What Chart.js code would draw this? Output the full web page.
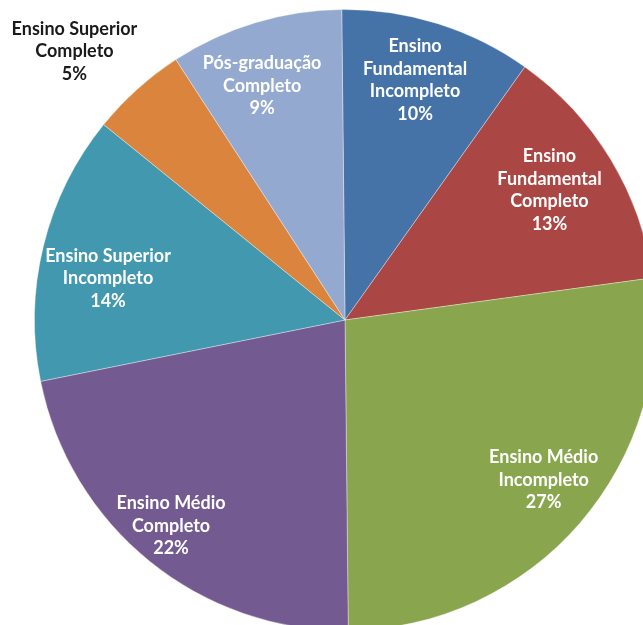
<!DOCTYPE html>
<html>
<head>
<meta charset="utf-8">
<script src="https://cdn.jsdelivr.net/npm/chart.js@4"></script>
<style>
  html, body { margin: 0; padding: 0; background: #fff; overflow: hidden; }
  #wrap { position: relative; width: 643px; height: 625px; overflow: hidden; }
  #wrap canvas { position: absolute; left: 0; top: 0; }
</style>
</head>
<body>
<div id="wrap"><canvas id="pie" width="700" height="640" style="width:700px;height:640px"></canvas></div>
<script>
// Escolaridade — pie, clockwise from 12 o'clock
const categories = [
  ['Ensino', 'Fundamental', 'Incompleto'],
  ['Ensino', 'Fundamental', 'Completo'],
  ['Ensino Médio', 'Incompleto'],
  ['Ensino Médio', 'Completo'],
  ['Ensino Superior', 'Incompleto'],
  ['Ensino Superior', 'Completo'],
  ['Pós-graduação', 'Completo'],
];
const values = [10, 13, 27, 22, 14, 5, 9];
const colors = ['#4572A7', '#AA4643', '#89A54E', '#735A91', '#4198AF', '#DB843D', '#93A9CF'];

const FONT = 'bold 18px Lato, "Open Sans", sans-serif';

// draws the data labels inside (white) or outside (dark) the slices
const sliceLabels = {
  id: 'sliceLabels',
  afterDatasetsDraw(chart, args, opts) {
    const { ctx } = chart;
    const meta = chart.getDatasetMeta(0);
    const total = values.reduce((a, b) => a + b, 0);
    ctx.save();
    ctx.font = FONT;
    ctx.textAlign = 'center';
    ctx.textBaseline = 'middle';
    meta.data.forEach((arc, i) => {
      const mid = (arc.startAngle + arc.endAngle) / 2;
      const small = values[i] / total < 0.06;
      // best-fit style placement: a small turn and radius per slice
      const a = mid + (opts.turn[i] || 0) * Math.PI / 180;
      const r = arc.outerRadius * opts.dist[i];
      const x = arc.x + Math.cos(a) * r;
      const y = arc.y + Math.sin(a) * r;
      const lines = [...categories[i], values[i] + '%'];
      const lh = 22.5;
      const y0 = y - (lines.length - 1) * lh / 2;
      ctx.fillStyle = small ? '#1a1a1a' : '#ffffff';
      lines.forEach((t, k) => ctx.fillText(t, x, y0 + k * lh));
    });
    ctx.restore();
  },
};

new Chart(document.getElementById('pie'), {
  type: 'pie',
  data: {
    labels: categories.map(c => c.join(' ')),
    datasets: [{
      data: values,
      backgroundColor: colors,
      borderColor: 'rgba(255,255,255,0.35)',
      borderWidth: 1,
    }],
  },
  options: {
    responsive: false,
    animation: false,
    rotation: -0.6,
    layout: { padding: { left: 34, right: 44, top: 9, bottom: 9 } },
    plugins: {
      legend: { display: false },
      tooltip: { enabled: false },
      sliceLabels: {
        turn: [-1.1, -1.2, -2.0, 1.2, -3.8, -3.2, -2.7],
        dist: [0.804, 0.78, 0.821, 0.868, 0.775, 1.228, 0.80],
      },
    },
  },
  plugins: [sliceLabels],
});
</script>
</body>
</html>
